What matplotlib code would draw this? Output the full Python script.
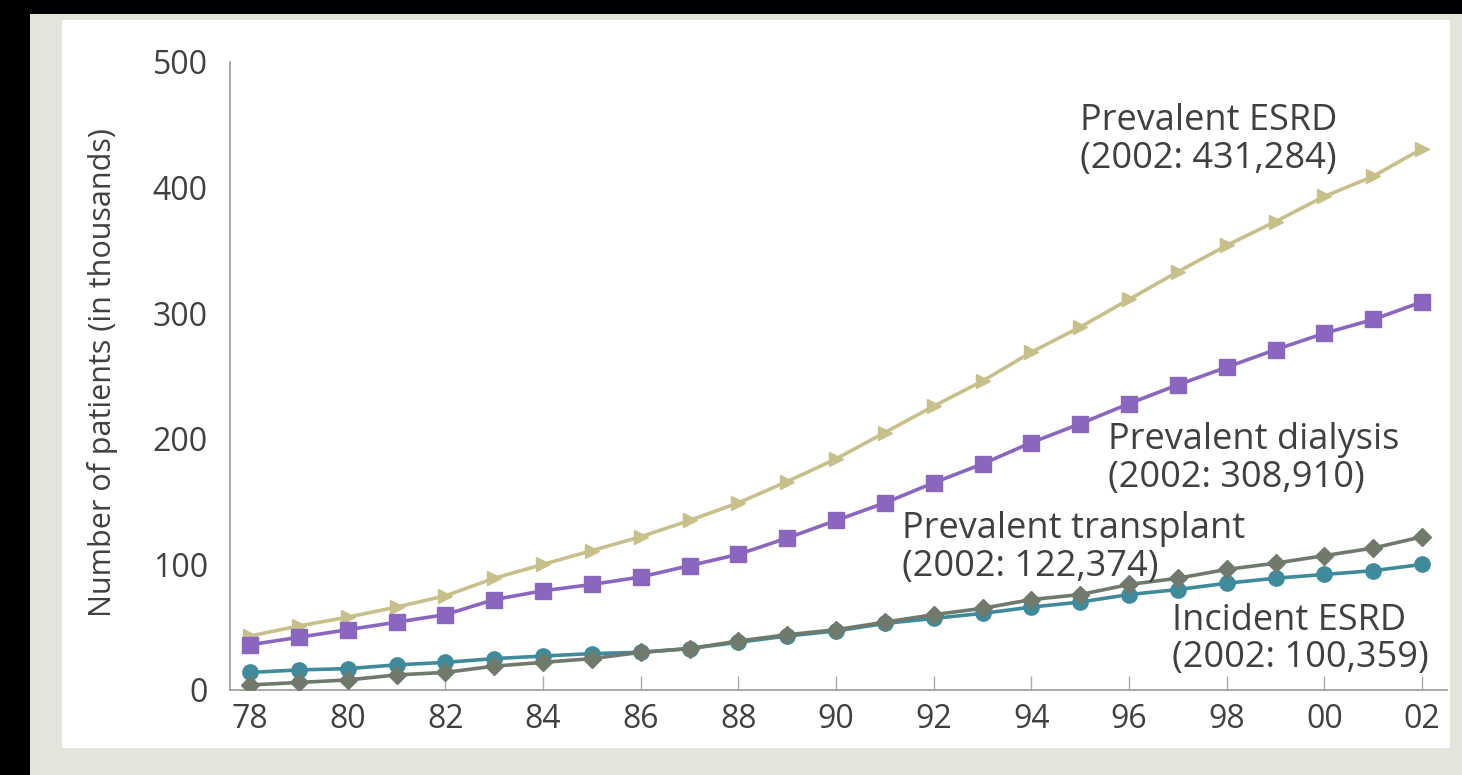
import matplotlib.pyplot as plt
from matplotlib.patches import Rectangle

years = list(range(1978, 2003))
tick_years = list(range(1978, 2003, 2))
tick_labels = ['78', '80', '82', '84', '86', '88', '90', '92', '94', '96', '98', '00', '02']
y_ticks = [0, 100, 200, 300, 400, 500]

# thousands of patients
prevalent_esrd = [43, 51, 58, 66, 75, 89, 100, 111, 122, 135, 149, 166, 184,
                  205, 226, 246, 269, 289, 311, 333, 354, 373, 393, 409, 431]
prevalent_dialysis = [36, 42, 48, 54, 60, 72, 79, 84, 90, 99, 108, 121, 135,
                      149, 165, 180, 197, 212, 228, 243, 257, 271, 284, 295, 309]
prevalent_transplant = [4, 6, 8, 12, 14, 19, 22, 25, 30, 33, 39, 44, 48,
                        54, 60, 65, 72, 76, 84, 89, 96, 101, 107, 113, 122]
incident_esrd = [14, 16, 17, 20, 22, 25, 27, 29, 30, 33, 38, 43, 47,
                 53, 57, 61, 66, 70, 76, 80, 85, 89, 92, 95, 100]

labels = ['Prevalent ESRD\n(2002: 431,284)',
          'Prevalent dialysis\n(2002: 308,910)',
          'Prevalent transplant\n(2002: 122,374)',
          'Incident ESRD\n(2002: 100,359)']
label_x = [1995.0, 1995.57, 1991.35, 1996.88]
label_y = [438, 184, 113, 40]

plt.rcParams['font.family'] = ['Open Sans', 'DejaVu Sans']

W, H = 1462, 775
fig = plt.figure(figsize=(W / 100, H / 100), dpi=100, facecolor='black')

# scanned page look: grey paper inside black border, white panel
fig.add_artist(Rectangle((30 / W, 0), 1 - 30 / W, 1 - 14 / H, transform=fig.transFigure,
                         facecolor='#e4e4dc', edgecolor='none', zorder=-3))
fig.add_artist(Rectangle((62 / W, 1 - 748 / H), (1450 - 62) / W, (748 - 20) / H,
                         transform=fig.transFigure, facecolor='white', edgecolor='none', zorder=-2))

ax = fig.add_axes([230 / W, 1 - 690 / H, (1447 - 230) / W, (690 - 62) / H])
ax.set_facecolor('none')

ax.plot(years, prevalent_esrd, color='#c8c08a', lw=2.6, marker='>', ms=10.5, zorder=3)
ax.plot(years, prevalent_dialysis, color='#8b66bf', lw=2.6, marker='s', ms=11, zorder=3)
ax.plot(years, incident_esrd, color='#3f8b9c', lw=2.6, marker='o', ms=11, zorder=3)
ax.plot(years, prevalent_transplant, color='#6f7a6d', lw=2.6, marker='D', ms=9, zorder=4)

for txt, x, y in zip(labels, label_x, label_y):
    ax.text(x, y, txt, fontsize=26, color='#404040', ha='left', va='center',
            linespacing=1.05, zorder=5)

ax.set_xlim(1977.59, 2002.51)
ax.set_ylim(0, 500)
ax.set_xticks(tick_years)
ax.set_xticklabels(tick_labels)
ax.set_yticks(y_ticks)

for s in ['top', 'right']:
    ax.spines[s].set_visible(False)
for s in ['left', 'bottom']:
    ax.spines[s].set_color('#9a9a9a')
    ax.spines[s].set_linewidth(1.2)

ax.tick_params(axis='x', direction='in', length=10, width=1, color='#aaaaaa',
               labelsize=23, labelcolor='#404040', pad=9)
ax.tick_params(axis='y', length=0, labelsize=23, labelcolor='#404040', pad=16)

ax.set_ylabel('Number of patients (in thousands)', fontsize=22, color='#404040')
ax.yaxis.set_label_coords(-0.092, 0.506)

fig.savefig('out.png', dpi=100, facecolor=fig.get_facecolor())
